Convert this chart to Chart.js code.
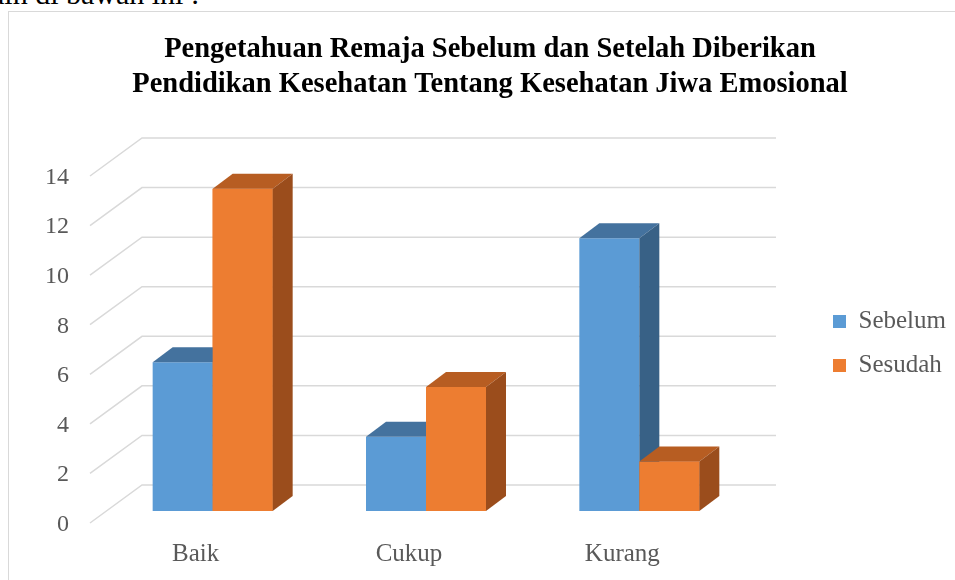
<!DOCTYPE html>
<html>
<head>
<meta charset="utf-8">
<script src="https://cdn.jsdelivr.net/npm/chart.js@4/dist/chart.umd.min.js"></script>
<style>
    html, body { margin: 0; padding: 0; background: #fff; overflow: hidden; }
    body { width: 955px; height: 580px; position: relative; }
    #above { position: absolute; left: -9px; top: -23px; font: 30px "Liberation Serif", serif; color: #000; white-space: nowrap; }
    #frame { position: absolute; left: 8px; top: 11px; width: 1000px; height: 1000px; border: 1px solid #d9d9d9; }
    #wrap { position: absolute; left: 0; top: 0; width: 955px; height: 580px; }
</style>
</head>
<body>
<div id="above">ain di bawah ini :</div>
<div id="frame"></div>
<div id="wrap"><canvas id="chart"></canvas></div>
<script>
const categories = ['Baik', 'Cukup', 'Kurang'];
const sebelum = [6, 3, 11];
const sesudah = [13, 5, 2];
const titleLines = ['Pengetahuan Remaja Sebelum dan Setelah Diberikan',
    'Pendidikan Kesehatan Tentang Kesehatan Jiwa Emosional'];

const blue = '#5b9bd5';
const orange = '#ed7d31';
const shade = {
    [blue]: {top: '#44729e', side: '#386186'},
    [orange]: {top: '#b75d22', side: '#9b4d1c'}
};
const depth = {x: 20, y: -15};
const textColor = '#595959';
const serif = '"Liberation Serif", serif';

function drawFaces(ctx, bar, color) {
    const p = bar.getProps(['x', 'y', 'base', 'width'], true);
    const l = p.x - p.width / 2, r = p.x + p.width / 2;
    const t = p.y, b = p.base;
    // top face
    ctx.fillStyle = shade[color].top;
    ctx.beginPath();
    ctx.moveTo(l, t);
    ctx.lineTo(l + depth.x, t + depth.y);
    ctx.lineTo(r + depth.x, t + depth.y);
    ctx.lineTo(r, t);
    ctx.closePath();
    ctx.fill();
    // right side face
    ctx.fillStyle = shade[color].side;
    ctx.beginPath();
    ctx.moveTo(r, t);
    ctx.lineTo(r + depth.x, t + depth.y);
    ctx.lineTo(r + depth.x, b + depth.y);
    ctx.lineTo(r, b);
    ctx.closePath();
    ctx.fill();
}

// fake 3d: back wall lines behind, top/side faces on the bars
const wallPlugin = {
    id: 'wall',
    beforeDatasetsDraw(chart) {
        const ctx = chart.ctx;
        const yScale = chart.scales.y;
        const {left, right} = chart.chartArea;
        ctx.save();
        ctx.strokeStyle = '#d9d9d9';
        ctx.lineWidth = 1.5;
        yScale.ticks.forEach(t => {
            const py = yScale.getPixelForValue(t.value);
            ctx.beginPath();
            ctx.moveTo(left - 16, py + 12);
            ctx.lineTo(left + 36, py - 26);
            ctx.lineTo(right + 30, py - 26);
            ctx.stroke();
        });
        ctx.restore();
    },
    afterDatasetsDraw(chart) {
        const ctx = chart.ctx;
        const ds = chart.data.datasets;
        const front = chart.getDatasetMeta(0).data;
        const back = chart.getDatasetMeta(1).data;
        ctx.save();
        front.forEach((bar, i) => {
            drawFaces(ctx, bar, ds[0].backgroundColor);
            back[i].draw(ctx);
            drawFaces(ctx, back[i], ds[1].backgroundColor);
        });
        ctx.restore();
    },
    afterLayout(chart) {
        // legend and title sit where excel put them, not where chart.js would
        const lg = chart.legend;
        const pad = lg.options.labels.padding;
        lg.left = 833 - pad;
        lg.right = chart.width;
        lg.width = lg.right - lg.left;
        lg.top = 290;
        lg.bottom = 397;
        chart.titleBlock.left = 25;
        chart.titleBlock.right = chart.width;
    }
};

new Chart(document.getElementById('chart'), {
    type: 'bar',
    data: {
        labels: categories,
        datasets: [
            {label: 'Sebelum', data: sebelum, backgroundColor: blue},
            {label: 'Sesudah', data: sesudah, backgroundColor: orange}
        ]
    },
    options: {
        responsive: true,
        maintainAspectRatio: false,
        animation: false,
        categoryPercentage: 0.5625,
        barPercentage: 1.0,
        layout: {
            padding: {left: 45, right: 109, top: 0, bottom: 11}
        },
        plugins: {
            title: {
                display: true,
                text: titleLines,
                color: '#000',
                font: {family: serif, size: 28.5, weight: 'bold', lineHeight: 1.228},
                padding: {top: 32, bottom: 62}
            },
            legend: {
                display: true,
                position: 'right',
                maxWidth: 100,
                labels: {
                    boxWidth: 13,
                    boxHeight: 13,
                    padding: 19,
                    color: textColor,
                    font: {family: serif, size: 25},
                    sort: (a, b) => a.datasetIndex - b.datasetIndex
                }
            },
            tooltip: {enabled: false}
        },
        scales: {
            x: {
                grid: {display: false, drawTicks: false},
                border: {display: false},
                afterFit: scale => { scale.height = 58; },
                ticks: {
                    color: textColor,
                    padding: 28,
                    labelOffset: -17,
                    font: {family: serif, size: 25}
                }
            },
            y: {
                min: 0,
                max: 14,
                grid: {display: false, drawTicks: false},
                border: {display: false},
                afterFit: scale => { scale.width = 61; },
                ticks: {
                    stepSize: 2,
                    color: textColor,
                    padding: 37,
                    labelOffset: 13.5,
                    font: {family: serif, size: 24}
                }
            }
        }
    },
    plugins: [wallPlugin]
});
</script>
</body>
</html>
